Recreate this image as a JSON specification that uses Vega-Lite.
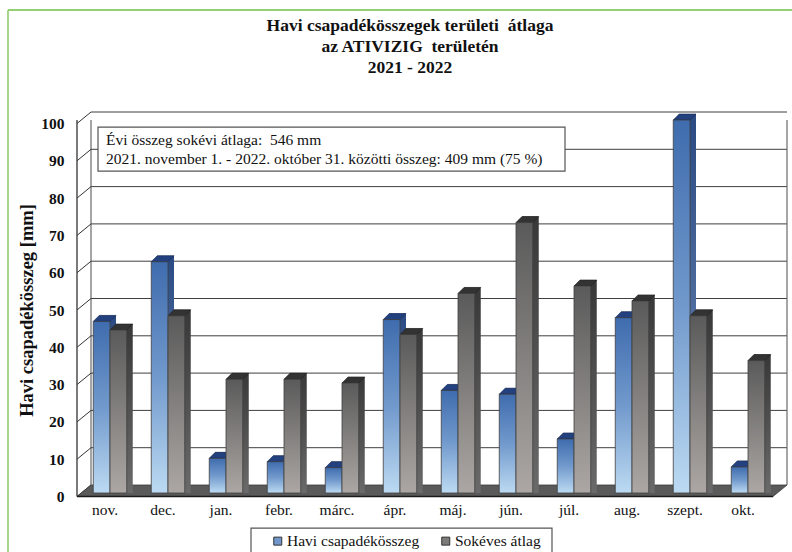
{
"$schema":"https://vega.github.io/schema/vega-lite/v6.json",
"width":696,"height":373,
"autosize":{"type":"none"},
"padding":{"left":81,"top":120,"right":15,"bottom":59},
"background":"white",
"config":{"view":{"stroke":null},"font":"Liberation Serif","axisY":{"tickCount":11,"labelOverlap":false}},
"title":{"text":["Havi csapadékösszegek területi \u00a0átlaga","az ATIVIZIG \u00a0területén","2021 - 2022"],"font":"Liberation Serif","fontSize":17.5,"fontWeight":"bold","color":"#111","lineHeight":21,"anchor":"middle","dx":-19,"offset":-85,"baseline":"bottom"},
"datasets":{
"bars":[
{"month":"nov.","series":"Havi csapadékösszeg","value":46},{"month":"dec.","series":"Havi csapadékösszeg","value":62},{"month":"jan.","series":"Havi csapadékösszeg","value":9.3},{"month":"febr.","series":"Havi csapadékösszeg","value":8.4},{"month":"márc.","series":"Havi csapadékösszeg","value":6.8},{"month":"ápr.","series":"Havi csapadékösszeg","value":46.5},{"month":"máj.","series":"Havi csapadékösszeg","value":27.5},{"month":"jún.","series":"Havi csapadékösszeg","value":26.5},{"month":"júl.","series":"Havi csapadékösszeg","value":14.5},{"month":"aug.","series":"Havi csapadékösszeg","value":47},{"month":"szept.","series":"Havi csapadékösszeg","value":100},{"month":"okt.","series":"Havi csapadékösszeg","value":7},
{"month":"nov.","series":"Sokéves átlag","value":43.7},{"month":"dec.","series":"Sokéves átlag","value":47.5},{"month":"jan.","series":"Sokéves átlag","value":30.5},{"month":"febr.","series":"Sokéves átlag","value":30.5},{"month":"márc.","series":"Sokéves átlag","value":29.5},{"month":"ápr.","series":"Sokéves átlag","value":42.5},{"month":"máj.","series":"Sokéves átlag","value":53.5},{"month":"jún.","series":"Sokéves átlag","value":72.5},{"month":"júl.","series":"Sokéves átlag","value":55.5},{"month":"aug.","series":"Sokéves átlag","value":51.5},{"month":"szept.","series":"Sokéves átlag","value":47.5},{"month":"okt.","series":"Sokéves átlag","value":35.5}
],
"grid":[{"v":10},{"v":20},{"v":30},{"v":40},{"v":50},{"v":60},{"v":70},{"v":80},{"v":90},{"v":100}],
"wall":[{"v":0},{"v":10},{"v":20},{"v":30},{"v":40},{"v":50},{"v":60},{"v":70},{"v":80},{"v":90},{"v":100}]
},
"data":{"name":"bars"},
"resolve":{"scale":{"x":"independent"}},
"layer":[
{"layer":[
{"data":{"name":"grid"},"mark":{"type":"rule","color":"#3f3f3f","strokeWidth":1,"yOffset":-8},
 "encoding":{"x":{"datum":10,"type":"quantitative","scale":{"domain":[0,696],"nice":false,"zero":false},"axis":null},"x2":{"datum":706},"y":{"field":"v","type":"quantitative","scale":{"domain":[0,100],"nice":false},"axis":{"tickCount":11,"labelOverlap":false,"labelBound":false,"grid":false,"ticks":false,"domain":false,"labelPadding":17,"labelOffset":3.5,"labelFont":"Liberation Serif","labelFontSize":15.5,"labelFontWeight":"bold","labelColor":"#111","title":"Havi csapadékösszeg [mm]","titleFont":"Liberation Serif","titleFontSize":18.5,"titleFontWeight":"bold","titleColor":"#111","titleX":-45,"titleY":190}}}},
{"data":{"values":[{"v":0}]},"mark":{"type":"rule","color":"#4a4a4a","strokeWidth":1,"yOffset":-8},
 "encoding":{"x":{"datum":10,"type":"quantitative"},"y":{"datum":0,"type":"quantitative"},"y2":{"datum":100}}},
{"data":{"values":[{"v":0}]},"mark":{"type":"rule","color":"#6a6a6a","strokeWidth":1.2,"yOffset":-8},
 "encoding":{"x":{"datum":706,"type":"quantitative"},"y":{"datum":0,"type":"quantitative"},"y2":{"datum":100}}},
{"data":{"values":[{"v":0}]},"mark":{"type":"rule","color":"#222","strokeWidth":1.2,"yOffset":3.5},
 "encoding":{"x":{"datum":-4,"type":"quantitative"},"y":{"datum":0,"type":"quantitative"},"y2":{"datum":100}}},
{"data":{"name":"wall"},"mark":{"type":"point","shape":"M-1,0.82L1,-0.82","size":196,"filled":false,"color":"#333","strokeWidth":1,"opacity":1,"yOffset":-2.25},
 "encoding":{"x":{"datum":3,"type":"quantitative"},"y":{"field":"v","type":"quantitative"}}},
{"data":{"values":[{"v":0}]},"mark":{"type":"point","shape":"M-3.55,0.0575L3.41,0.0575L3.55,-0.0575L-3.41,-0.0575Z","size":40000,"filled":true,"fill":"#5a5a5a","stroke":"#3a3a3a","strokeWidth":0.8,"opacity":1,"yOffset":-2.25},
 "encoding":{"x":{"datum":351,"type":"quantitative"},"y":{"datum":0,"type":"quantitative"}}},
{"data":{"values":[{"v":0}]},"mark":{"type":"rule","color":"#1a1a1a","strokeWidth":1.6,"yOffset":3.5},
 "encoding":{"x":{"datum":-4,"type":"quantitative"},"x2":{"datum":692},"y":{"datum":0,"type":"quantitative"}}},
{"data":{"values":[{"v":0}]},"mark":{"type":"rule","color":"#6fbf45","strokeWidth":1.6},
 "encoding":{"x":{"datum":-73,"type":"quantitative"},"x2":{"datum":711},"y":{"datum":129.5,"type":"quantitative"}}},
{"data":{"values":[{"v":0}]},"mark":{"type":"rule","color":"#8fcf6d","strokeWidth":1.6},
 "encoding":{"x":{"datum":-73,"type":"quantitative"},"y":{"datum":129.5,"type":"quantitative"},"y2":{"datum":-20}}}
]},
{"encoding":{
 "x":{"field":"month","type":"nominal","sort":null,"scale":{"paddingInner":0.4224,"paddingOuter":0.2112},"axis":{"orient":"bottom","title":null,"ticks":false,"domain":false,"labelAngle":0,"labelPadding":16,"labelOffset":-5,"labelFont":"Liberation Serif","labelFontSize":15.5,"labelColor":"#111","labelBaseline":"middle"}},
 "y":{"field":"value","type":"quantitative","stack":null}},
"layer":[
{"mark":{"type":"bar","width":10,"opacity":0},
 "encoding":{"color":{"field":"series","type":"nominal","scale":{"domain":["Havi csapadékösszeg","Sokéves átlag"],"range":["#6f97cb","#7d7b7a"]},
  "legend":{"title":null,"orient":"none","legendX":189,"legendY":413,"direction":"horizontal","columns":2,"columnPadding":18,"symbolType":"square","symbolSize":64,"symbolOpacity":1,"symbolStrokeColor":"#333","symbolStrokeWidth":1,"labelFont":"Liberation Serif","labelFontSize":15.5,"labelColor":"#111","labelOffset":1.5,"padding":0}}}},
{"transform":[{"filter":"datum.series==='Havi csapadékösszeg'"}],"layer":[
{"mark":{"type":"bar","width":16.75,"xOffset":-7.375,"yOffset":-1,"fill":{"x1":0,"y1":0,"x2":0,"y2":1,"gradient":"linear","stops":[{"offset":0,"color":"#2b4a82"},{"offset":1,"color":"#6f8db8"}]}}},
{"mark":{"type":"bar","width":16.75,"xOffset":-6.375,"yOffset":-2,"fill":{"x1":0,"y1":0,"x2":0,"y2":1,"gradient":"linear","stops":[{"offset":0,"color":"#2b4a82"},{"offset":1,"color":"#6f8db8"}]}}},
{"mark":{"type":"bar","width":16.75,"xOffset":-5.375,"yOffset":-3,"fill":{"x1":0,"y1":0,"x2":0,"y2":1,"gradient":"linear","stops":[{"offset":0,"color":"#2b4a82"},{"offset":1,"color":"#6f8db8"}]}}},
{"mark":{"type":"bar","width":16.75,"xOffset":-4.375,"yOffset":-4,"fill":{"x1":0,"y1":0,"x2":0,"y2":1,"gradient":"linear","stops":[{"offset":0,"color":"#2b4a82"},{"offset":1,"color":"#6f8db8"}]}}},
{"mark":{"type":"bar","width":16.75,"xOffset":-3.375,"yOffset":-5,"fill":{"x1":0,"y1":0,"x2":0,"y2":1,"gradient":"linear","stops":[{"offset":0,"color":"#2b4a82"},{"offset":1,"color":"#6f8db8"}]}}},
{"mark":{"type":"bar","width":16.75,"xOffset":-2.375,"yOffset":-6,"fill":{"x1":0,"y1":0,"x2":0,"y2":1,"gradient":"linear","stops":[{"offset":0,"color":"#2b4a82"},{"offset":1,"color":"#6f8db8"}]}}},
{"mark":{"type":"point","shape":"M-.84,0L.84,0L1.44,-.6L-.24,-.6Z","size":400,"filled":true,"fill":"#23407f","stroke":"#17294f","strokeWidth":0.6,"opacity":1,"xOffset":-8.375}}
]},
{"transform":[{"filter":"datum.series==='Sokéves átlag'"}],"layer":[
{"mark":{"type":"bar","width":16.75,"xOffset":9.375,"yOffset":-1,"fill":{"x1":0,"y1":0,"x2":0,"y2":1,"gradient":"linear","stops":[{"offset":0,"color":"#383838"},{"offset":1,"color":"#6a6a6a"}]}}},
{"mark":{"type":"bar","width":16.75,"xOffset":10.375,"yOffset":-2,"fill":{"x1":0,"y1":0,"x2":0,"y2":1,"gradient":"linear","stops":[{"offset":0,"color":"#383838"},{"offset":1,"color":"#6a6a6a"}]}}},
{"mark":{"type":"bar","width":16.75,"xOffset":11.375,"yOffset":-3,"fill":{"x1":0,"y1":0,"x2":0,"y2":1,"gradient":"linear","stops":[{"offset":0,"color":"#383838"},{"offset":1,"color":"#6a6a6a"}]}}},
{"mark":{"type":"bar","width":16.75,"xOffset":12.375,"yOffset":-4,"fill":{"x1":0,"y1":0,"x2":0,"y2":1,"gradient":"linear","stops":[{"offset":0,"color":"#383838"},{"offset":1,"color":"#6a6a6a"}]}}},
{"mark":{"type":"bar","width":16.75,"xOffset":13.375,"yOffset":-5,"fill":{"x1":0,"y1":0,"x2":0,"y2":1,"gradient":"linear","stops":[{"offset":0,"color":"#383838"},{"offset":1,"color":"#6a6a6a"}]}}},
{"mark":{"type":"bar","width":16.75,"xOffset":14.375,"yOffset":-6,"fill":{"x1":0,"y1":0,"x2":0,"y2":1,"gradient":"linear","stops":[{"offset":0,"color":"#383838"},{"offset":1,"color":"#6a6a6a"}]}}},
{"mark":{"type":"point","shape":"M-.84,0L.84,0L1.44,-.6L-.24,-.6Z","size":400,"filled":true,"fill":"#333333","stroke":"#1f1f1f","strokeWidth":0.6,"opacity":1,"xOffset":8.375}}
]},
{"transform":[{"filter":"datum.series==='Havi csapadékösszeg'"}],"mark":{"type":"bar","width":16.75,"xOffset":-8.375,"stroke":"#3f3f3f","strokeWidth":0.8,"fill":{"x1":0,"y1":0,"x2":0,"y2":1,"gradient":"linear","stops":[{"offset":0,"color":"#3f6cae"},{"offset":0.5,"color":"#7199cc"},{"offset":1,"color":"#bcdaf2"}]}}},
{"transform":[{"filter":"datum.series==='Sokéves átlag'"}],"mark":{"type":"bar","width":16.75,"xOffset":8.375,"stroke":"#3f3f3f","strokeWidth":0.8,"fill":{"x1":0,"y1":0,"x2":0,"y2":1,"gradient":"linear","stops":[{"offset":0,"color":"#5a5a5a"},{"offset":1,"color":"#aca7a4"}]}}}
]},
{"layer":[
{"data":{"values":[{"v":0}]},"mark":{"type":"rect","fill":"white","stroke":"#555","strokeWidth":1.2},
 "encoding":{"x":{"datum":17,"type":"quantitative","scale":{"domain":[0,696],"nice":false,"zero":false},"axis":null},"x2":{"datum":484},"y":{"datum":98.1,"type":"quantitative"},"y2":{"datum":86.3}}},
{"data":{"values":[{"v":0}]},"mark":{"type":"text","text":"Évi összeg sokévi átlaga:\u00a0 546 mm","align":"left","baseline":"middle","font":"Liberation Serif","fontSize":15.5,"color":"#111"},
 "encoding":{"x":{"datum":25,"type":"quantitative"},"y":{"datum":94.6,"type":"quantitative"}}},
{"data":{"values":[{"v":0}]},"mark":{"type":"text","text":"2021. november 1. - 2022. október 31. közötti összeg: 409 mm (75 %)","align":"left","baseline":"middle","font":"Liberation Serif","fontSize":15.5,"color":"#111"},
 "encoding":{"x":{"datum":25,"type":"quantitative"},"y":{"datum":89.5,"type":"quantitative"}}},
{"data":{"values":[{"v":0}]},"mark":{"type":"rect","fill":"white","stroke":"#555","strokeWidth":1.2},
 "encoding":{"x":{"datum":170,"type":"quantitative"},"x2":{"datum":471},"y":{"datum":-9.4,"type":"quantitative"},"y2":{"datum":-20}}}
]}
]
}
